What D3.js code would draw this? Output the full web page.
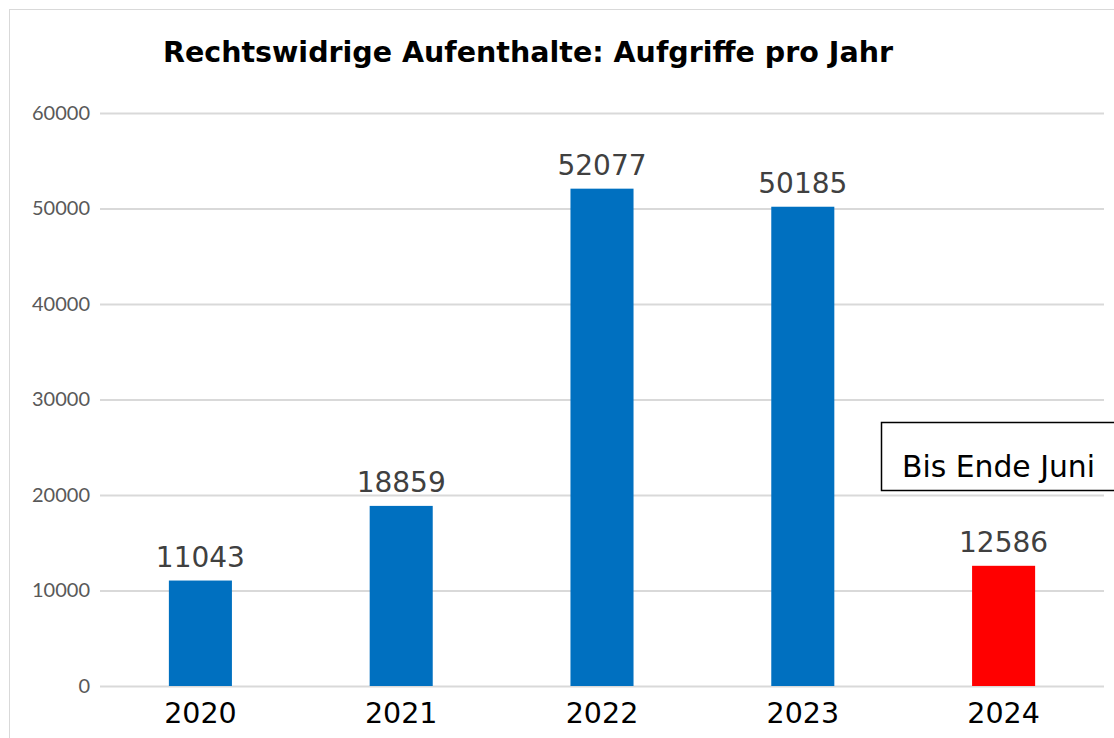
<!DOCTYPE html>
<html>
<head>
<meta charset="utf-8">
<script src="https://cdn.jsdelivr.net/npm/d3@7"></script>
<style>
  html, body { margin: 0; padding: 0; background: #fff; }
  svg { display: block; }
</style>
</head>
<body>
<svg id="chart" width="1114" height="738"></svg>
<script>
const categories = ["2020", "2021", "2022", "2023", "2024"];
const values = [11043, 18859, 52077, 50185, 12586];
const barColors = ["#0070C0", "#0070C0", "#0070C0", "#0070C0", "#FF0000"];
const yTicks = [0, 10000, 20000, 30000, 40000, 50000, 60000];
const titleText = "Rechtswidrige Aufenthalte: Aufgriffe pro Jahr";
const noteText = "Bis Ende Juni";

const svg = d3.select("#chart");
const W = 1114, H = 738;
const plot = { left: 100, right: 1104, top: 113, bottom: 686 };

// chart area border
svg.append("rect")
  .attr("x", 9.5).attr("y", 9.5)
  .attr("width", W + 20).attr("height", H + 20)
  .attr("fill", "#fff").attr("stroke", "#d9d9d9").attr("stroke-width", 1);

const x = d3.scaleBand().domain(categories)
  .range([plot.left, plot.right]).paddingInner(0.686).paddingOuter(0.343);
const y = d3.scaleLinear().domain([0, 60000]).range([plot.bottom, plot.top]);

// gridlines + y axis
const yAxis = d3.axisLeft(y).tickValues(yTicks).tickSize(-(plot.right - plot.left)).tickPadding(10).tickFormat(d3.format("d"));
const gy = svg.append("g").attr("transform", `translate(${plot.left},0)`).call(yAxis);
gy.select(".domain").remove();
gy.selectAll(".tick line").attr("stroke", "#d9d9d9").attr("stroke-width", 2);
gy.selectAll(".tick text")
  .attr("fill", "#595959").attr("font-family", "Lato, 'Open Sans', sans-serif")
  .attr("font-size", 20);

// bars
svg.append("g").selectAll("rect").data(values).join("rect")
  .attr("x", (d, i) => x(categories[i]))
  .attr("y", d => y(d))
  .attr("width", x.bandwidth())
  .attr("height", d => y(0) - y(d))
  .attr("fill", (d, i) => barColors[i]);

// value labels
svg.append("g").selectAll("text").data(values).join("text")
  .attr("x", (d, i) => x(categories[i]) + x.bandwidth() / 2)
  .attr("y", d => y(d) - 14)
  .attr("text-anchor", "middle")
  .attr("font-family", "'DejaVu Sans', Verdana, sans-serif")
  .attr("font-size", 28)
  .attr("fill", "#404040")
  .text(d => d);

// x axis labels
const xAxis = d3.axisBottom(x).tickSize(0).tickPadding(0);
const gx = svg.append("g").attr("transform", `translate(0,${plot.bottom})`).call(xAxis);
gx.select(".domain").remove();
gx.selectAll(".tick text")
  .attr("dy", 0).attr("y", 37)
  .attr("font-family", "'DejaVu Sans', Verdana, sans-serif")
  .attr("font-size", 28.5)
  .attr("fill", "#000");

// title
svg.append("text")
  .attr("x", 528).attr("y", 62)
  .attr("text-anchor", "middle")
  .attr("font-family", "'DejaVu Sans', Verdana, sans-serif")
  .attr("font-weight", "bold")
  .attr("font-size", 28.5)
  .attr("fill", "#000")
  .text(titleText);

// annotation box
svg.append("rect")
  .attr("x", 881.5).attr("y", 422.5)
  .attr("width", 260).attr("height", 68)
  .attr("fill", "#fff").attr("stroke", "#000").attr("stroke-width", 1.5);
svg.append("text")
  .attr("x", 902).attr("y", 477)
  .attr("font-family", "'DejaVu Sans', Verdana, sans-serif")
  .attr("font-size", 29.8)
  .attr("fill", "#000")
  .text(noteText);
</script>
</body>
</html>
